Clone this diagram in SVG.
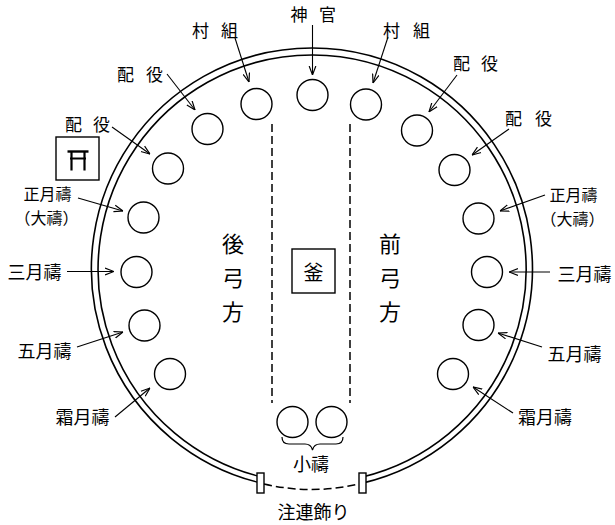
<svg xmlns="http://www.w3.org/2000/svg" width="615" height="525" viewBox="0 0 615 525">
<style>
.ring{fill:none;stroke:#000;stroke-width:1.6}
.seat{fill:#fff;stroke:#000;stroke-width:1.4}
.t{font-family:"Noto Sans CJK JP","Noto Sans CJK SC",sans-serif;font-size:17px;fill:#000;text-anchor:middle;dominant-baseline:central}
.big{font-size:22px}
.arr{fill:none;stroke:#000;stroke-width:1.1;marker-end:url(#ah)}
.dash{fill:none;stroke:#000;stroke-width:1.5;stroke-dasharray:8 4}
.box{fill:#fff;stroke:#000;stroke-width:1.4}
</style>
<defs>
<marker id="ah" viewBox="0 0 10 10" refX="10" refY="5" markerWidth="9" markerHeight="9" orient="auto" markerUnits="userSpaceOnUse">
<path d="M0,1.3 L10,5 L0,8.7" fill="none" stroke="#000" stroke-width="1.3"/>
</marker>
</defs>
<rect width="615" height="525" fill="#fff"/>

<g id="enclosure">
<path class="ring" d="M260.5,482.9 A220.5,220.5 0 1 1 362.5,483.1"/>
<path class="ring" d="M260.5,476.7 A214,214 0 1 1 362.5,477"/>
<path class="dash" d="M264,484 Q311.5,495 359,484" stroke-width="1.3" stroke-dasharray="6 4"/>
<rect class="box" x="257" y="473" width="7" height="20"/>
<rect class="box" x="359" y="473" width="7" height="20"/>
</g>

<g id="divisions">
<line class="dash" x1="272" y1="124" x2="272" y2="403"/>
<line class="dash" x1="350" y1="124" x2="350" y2="403"/>
</g>

<g id="seats">
<circle class="seat" cx="312.5" cy="95" r="15.5"/>
<circle class="seat" cx="256.5" cy="104" r="15.5"/>
<circle class="seat" cx="366" cy="104.5" r="15.5"/>
<circle class="seat" cx="207.5" cy="129" r="15.5"/>
<circle class="seat" cx="417" cy="130.5" r="15.5"/>
<circle class="seat" cx="168" cy="168.5" r="15.5"/>
<circle class="seat" cx="454.5" cy="170" r="15.5"/>
<circle class="seat" cx="143.5" cy="217.5" r="15.5"/>
<circle class="seat" cx="478.5" cy="218.5" r="15.5"/>
<circle class="seat" cx="136.5" cy="272" r="15.5"/>
<circle class="seat" cx="487" cy="272" r="15.5"/>
<circle class="seat" cx="144.5" cy="325.5" r="15.5"/>
<circle class="seat" cx="478.5" cy="325" r="15.5"/>
<circle class="seat" cx="170" cy="374" r="15.5"/>
<circle class="seat" cx="453" cy="374" r="15.5"/>
<circle class="seat" cx="292.5" cy="422" r="15.5"/>
<circle class="seat" cx="331.5" cy="422" r="15.5"/>
</g>

<g id="connectors">
<line class="arr" x1="312.5" y1="25" x2="312.5" y2="75"/>
<line class="arr" x1="235" y1="38" x2="249" y2="82"/>
<line class="arr" x1="388" y1="37" x2="373" y2="83"/>
<line class="arr" x1="167" y1="74" x2="195" y2="110"/>
<line class="arr" x1="457" y1="75" x2="429" y2="112"/>
<line class="arr" x1="112" y1="127" x2="150" y2="154"/>
<line class="arr" x1="509" y1="129" x2="472" y2="155"/>
<line class="arr" x1="78" y1="198" x2="123" y2="211"/>
<line class="arr" x1="545" y1="195" x2="500" y2="211"/>
<line class="arr" x1="67" y1="271.5" x2="114" y2="271.5"/>
<line class="arr" x1="550" y1="272" x2="509" y2="272"/>
<line class="arr" x1="77" y1="347" x2="123" y2="332"/>
<line class="arr" x1="542" y1="347" x2="498" y2="333"/>
<line class="arr" x1="115" y1="417" x2="150" y2="388"/>
<line class="arr" x1="513" y1="413" x2="473" y2="387"/>
</g>

<g id="label-kannushi"><text class="t" x="299 327.5" y="13">神官</text></g>
<g id="label-muragumi-l"><text class="t" x="200.5 229.5" y="29.5">村組</text></g>
<g id="label-muragumi-r"><text class="t" x="391.5 421.5" y="29.5">村組</text></g>
<g id="label-haiyaku-1l"><text class="t" x="125.5 154.5" y="73">配役</text></g>
<g id="label-haiyaku-1r"><text class="t" x="461.5 489.5" y="62.5">配役</text></g>
<g id="label-haiyaku-2l"><text class="t" x="73.5 101.5" y="123.5">配役</text></g>
<g id="label-haiyaku-2r"><text class="t" x="513.5 543.5" y="117">配役</text></g>

<g id="label-shogatsu-l"><text class="t" style="font-size:16px"><tspan x="47.5" y="193">正月禱</tspan><tspan x="46.5" y="216.5">（大禱）</tspan></text></g>
<g id="label-shogatsu-r"><text class="t" style="font-size:16px"><tspan x="573.5" y="194">正月禱</tspan><tspan x="572.5" y="217.5">（大禱）</tspan></text></g>
<g id="label-sangatsu-l"><text class="t" x="34.5" y="271" style="font-size:18px">三月禱</text></g>
<g id="label-sangatsu-r"><text class="t" x="584.5" y="272.5" style="font-size:18px">三月禱</text></g>
<g id="label-gogatsu-l"><text class="t" x="44.5" y="350" style="font-size:18px">五月禱</text></g>
<g id="label-gogatsu-r"><text class="t" x="574.5" y="352.5" style="font-size:18px">五月禱</text></g>
<g id="label-shimotsuki-l"><text class="t" x="82.5" y="416" style="font-size:18px">霜月禱</text></g>
<g id="label-shimotsuki-r"><text class="t" x="545" y="416" style="font-size:18px">霜月禱</text></g>

<g id="torii">
<rect class="box" x="56" y="137" width="43" height="43"/>
<line x1="67.5" y1="151.5" x2="88.5" y2="151.5" stroke="#000" stroke-width="2.4"/>
<line x1="70" y1="158.5" x2="86" y2="158.5" stroke="#000" stroke-width="2"/>
<line x1="71.5" y1="151" x2="71.5" y2="170.5" stroke="#000" stroke-width="2.2"/>
<line x1="84.5" y1="151" x2="84.5" y2="170.5" stroke="#000" stroke-width="2.2"/>
</g>

<g id="kama">
<rect class="box" x="292" y="249" width="43" height="44"/>
<text class="t" x="313.5" y="271" style="font-size:20px">釜</text>
</g>

<g id="ushiroyumikata">
<text class="t big" x="233" y="242">後</text>
<text class="t big" x="233" y="276">弓</text>
<text class="t big" x="233" y="310">方</text>
</g>
<g id="maeyumikata">
<text class="t big" x="390" y="242">前</text>
<text class="t big" x="390" y="276">弓</text>
<text class="t big" x="390" y="310">方</text>
</g>

<g id="kogito">
<path d="M282,437 Q282,444 289,444 L305,444 Q311,444 312.5,450 Q314,444 320,444 L336,444 Q343,444 343,437" fill="none" stroke="#000" stroke-width="1.2"/>
<text class="t" x="311" y="463" style="font-size:18px">小禱</text>
</g>

<g id="shimenawa">
<text class="t" x="313.5" y="511" style="font-size:18px">注連飾り</text>
</g>
</svg>
